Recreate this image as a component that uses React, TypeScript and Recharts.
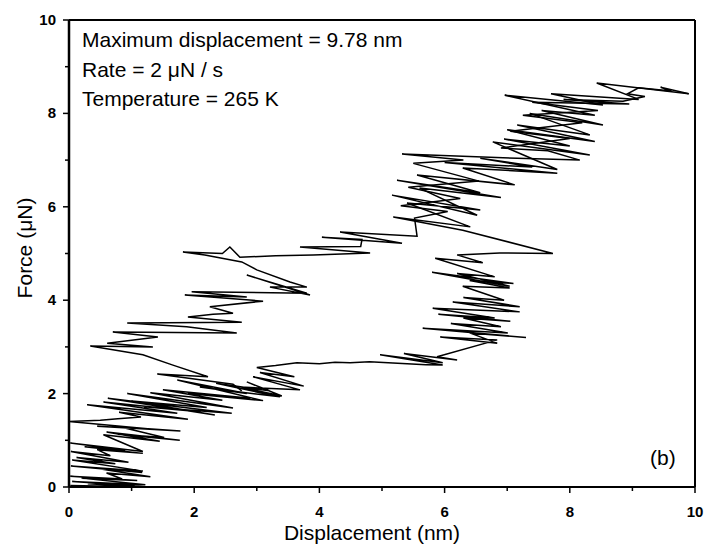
import { LineChart, Line, XAxis, YAxis } from "recharts";

type Pt = [number, number];

// loading branch (x in nm, y in uN)
const loadBottom: Pt[] = [
  [0.02, 0.03], [1.26, 0.0],
  [0.3, 0.07], [1.05, 0.03],
  [0.05, 0.12], [1.22, 0.05],
  [0.2, 0.19], [1.09, 0.14],
  [0.02, 0.23], [0.85, 0.17],
  [0.6, 0.3], [1.3, 0.22],
  [0.38, 0.41], [1.17, 0.31],
  [0.03, 0.45], [1.18, 0.34],
  [0.05, 0.58], [0.74, 0.5],
  [0.12, 0.63], [0.95, 0.53],
  [0.03, 0.76], [0.66, 0.67],
  [0.45, 0.8], [1.18, 0.72],
  [0.25, 0.86], [0.9, 0.79],
  [0.02, 0.94], [1.18, 0.76],
];

const loadLow: Pt[] = [
  [0.55, 1.12], [1.45, 0.98],
  [0.6, 1.18], [1.77, 1.0],
  [0.78, 1.13], [1.52, 1.06],
  [0.81, 1.29], [1.78, 1.2],
  [0.45, 1.3], [1.3, 1.24],
  [0.0, 1.4], [0.5, 1.43], [0.78, 1.46], [1.15, 1.5],
];

const loadRise: Pt[] = [
  [0.8, 1.6], [1.9, 1.45],
  [0.29, 1.76], [1.73, 1.58],
  [0.55, 1.82], [2.0, 1.62],
  [1.2, 1.72], [2.6, 1.58],
  [0.62, 1.9], [2.33, 1.54],
  [1.0, 1.84], [2.2, 1.7],
  [0.93, 2.0], [2.62, 1.69],
  [1.3, 2.02], [2.45, 1.86],
  [1.5, 2.08], [2.9, 1.9],
  [1.9, 2.0], [3.1, 1.85],
  [1.73, 2.29], [2.84, 2.0],
  [2.09, 2.14], [3.37, 1.93],
  [2.35, 2.22], [3.2, 2.06],
  [2.84, 2.25], [3.4, 1.95],
  [2.73, 2.14], [3.69, 2.08],
  [2.94, 2.36], [3.75, 2.16],
  [3.05, 2.45], [3.6, 2.36],
];

const loadPlateau: Pt[] = [
  [3.0, 2.56], [3.3, 2.6], [3.64, 2.66], [4.0, 2.64], [4.25, 2.67], [4.49, 2.66],
  [4.8, 2.68], [5.1, 2.66], [5.4, 2.64], [5.7, 2.62], [5.97, 2.61],
  [4.97, 2.83], [5.97, 2.66], [5.35, 2.86], [6.2, 2.72], [5.88, 2.79], [6.84, 3.15],
];

const loadSteep: Pt[] = [
  [5.93, 3.21], [6.84, 3.08],
  [6.4, 3.3], [7.3, 3.2],
  [5.65, 3.4], [7.01, 3.3],
  [6.1, 3.5], [6.9, 3.43],
  [6.3, 3.62], [7.05, 3.55],
  [5.9, 3.7], [6.8, 3.62],
  [5.81, 3.83], [7.2, 3.75],
  [6.13, 3.96], [7.2, 3.86],
  [6.3, 4.06], [6.95, 4.0],
  [6.29, 4.3], [7.04, 4.26],
  [6.4, 4.42], [7.1, 4.36],
  [5.8, 4.6], [7.04, 4.3],
  [6.2, 4.57], [6.8, 4.5],
  [5.85, 4.9], [6.61, 4.8],
  [6.2, 4.97], [6.88, 5.01], [7.73, 5.0],
];

const loadBand: Pt[] = [
  [6.29, 5.5],
  [5.18, 5.78], [6.41, 5.57],
  [5.4, 6.08], [6.57, 5.93],
  [5.16, 6.25], [6.52, 5.82],
  [5.6, 6.4], [6.9, 6.2],
  [5.24, 6.57], [6.57, 6.3],
  [5.56, 6.68], [7.12, 6.47],
  [6.29, 6.83], [7.8, 6.72],
  [6.0, 6.95], [7.4, 6.85],
  [6.57, 7.04], [7.8, 6.8],
  [6.77, 7.39], [8.32, 7.11],
  [6.95, 7.45], [8.0, 7.3],
  [7.0, 7.65], [8.4, 7.4],
  [7.16, 7.75], [8.32, 7.54],
  [7.36, 8.0], [8.53, 7.75],
  [7.55, 8.06], [8.4, 7.96],
  [6.96, 8.39], [8.53, 8.18],
  [7.7, 8.42], [9.1, 8.3],
  [8.43, 8.65], [9.9, 8.42],
];

// unloading branch
const unloadTop: Pt[] = [
  [9.9, 8.42], [9.45, 8.56], [9.62, 8.48], [9.1, 8.55], [8.92, 8.42], [9.2, 8.36], [8.85, 8.26],
  [7.9, 8.3], [8.95, 8.2], [7.4, 8.24], [8.45, 8.06],
  [7.25, 7.96], [8.2, 7.8], [7.05, 7.62], [8.0, 7.46],
  [6.9, 7.26], [7.65, 7.2],
  [8.16, 7.0], [7.16, 7.04], [5.32, 7.13],
];

const unloadBand: Pt[] = [
  [6.3, 7.0], [5.5, 6.93], [6.55, 6.55], [5.42, 6.42], [6.25, 6.18], [5.3, 6.02],
  [6.05, 5.9], [5.52, 5.76],
];

const unloadLeft: Pt[] = [
  [5.56, 5.37], [4.33, 5.46], [5.32, 5.22], [4.04, 5.35], [4.68, 5.3], [4.66, 5.15],
  [3.69, 5.14], [4.81, 5.01], [3.9, 4.97], [3.3, 4.95], [2.73, 4.92], [2.57, 5.14],
  [2.45, 5.0], [1.82, 5.03], [2.17, 4.97], [2.76, 4.82], [3.0, 4.65], [3.53, 4.39],
  [3.8, 4.28], [3.21, 4.28], [3.85, 4.11], [2.84, 4.54], [3.8, 4.15],
  [1.96, 4.18], [2.84, 4.07], [1.85, 4.11], [3.1, 3.98], [2.25, 3.86], [2.62, 3.72], [2.3, 3.7],
  [1.9, 3.64], [2.76, 3.53], [0.93, 3.51], [1.88, 3.43], [2.68, 3.3], [0.7, 3.32],
  [1.42, 3.21], [0.61, 3.08], [1.34, 3.0], [0.34, 3.02], [1.18, 2.83], [1.66, 2.61],
  [2.22, 2.36], [1.41, 2.42], [2.62, 2.2], [2.76, 2.06],
];

const ticks = [0, 1, 2, 3, 4, 5, 6, 7, 8, 9, 10];

const notes = ["Maximum displacement = 9.78 nm", "Rate = 2 \u03bcN / s", "Temperature = 265 K"];

const toRows = (pts: Pt[]) => pts.map(([x, y]) => ({ x, y }));

const loading = toRows([...loadBottom, ...loadLow, ...loadRise, ...loadPlateau, ...loadSteep, ...loadBand]);
const unloading = toRows([...unloadTop, ...unloadBand, ...unloadLeft]);

const font = "'Liberation Sans', Arial, sans-serif";
const isMajor = (v: number) => v % 2 === 0;

const BottomTick = ({ x, y, payload }: any) => (
  <g>
    <line x1={x} y1={y} x2={x} y2={y + (isMajor(payload.value) ? 6 : 4)} stroke="#000" strokeWidth={1.5} />
    {isMajor(payload.value) && (
      <text x={x} y={y + 30} textAnchor="middle" fontSize={15} fontWeight="bold" fontFamily={font} fill="#000">
        {payload.value}
      </text>
    )}
  </g>
);

const TopTick = ({ x, y, payload }: any) => (
  <line x1={x} y1={y} x2={x} y2={y - (isMajor(payload.value) ? 6 : 4)} stroke="#000" strokeWidth={1.5} />
);

const LeftTick = ({ x, y, payload }: any) => (
  <g>
    <line x1={x} y1={y} x2={x - (isMajor(payload.value) ? 6 : 4)} y2={y} stroke="#000" strokeWidth={1.5} />
    {isMajor(payload.value) && (
      <text x={x - 13} y={y + 5} textAnchor="end" fontSize={15} fontWeight="bold" fontFamily={font} fill="#000">
        {payload.value}
      </text>
    )}
  </g>
);

const RightTick = ({ x, y, payload }: any) => (
  <line x1={x} y1={y} x2={x + (isMajor(payload.value) ? 6 : 4)} y2={y} stroke="#000" strokeWidth={1.5} />
);

const axisLine = { stroke: "#000", strokeWidth: 2 };

const App = () => {
  return (
    <div style={{ position: "absolute", left: 0, top: 0, width: 709, height: 549, background: "#fff" }}>
      <LineChart width={709} height={549} margin={{ top: 10, right: 4, bottom: 22, left: 9 }}>
        <XAxis
          xAxisId="b"
          type="number"
          dataKey="x"
          domain={[0, 10]}
          ticks={ticks}
          interval={0}
          height={40}
          axisLine={axisLine}
          tickLine={false}
          tickSize={0}
          tickMargin={0}
          tick={(p: any) => <BottomTick {...p} />}
        />
        <XAxis
          xAxisId="t"
          orientation="top"
          type="number"
          dataKey="x"
          domain={[0, 10]}
          ticks={ticks}
          interval={0}
          height={10}
          axisLine={axisLine}
          tickLine={false}
          tickSize={0}
          tickMargin={0}
          tick={(p: any) => <TopTick {...p} />}
        />
        <YAxis
          yAxisId="l"
          type="number"
          dataKey="y"
          domain={[0, 10]}
          ticks={ticks}
          interval={0}
          width={60}
          axisLine={{ stroke: "#000", strokeWidth: 2.5 }}
          tickLine={false}
          tickSize={0}
          tickMargin={0}
          tick={(p: any) => <LeftTick {...p} />}
        />
        <YAxis
          yAxisId="r"
          orientation="right"
          type="number"
          dataKey="y"
          domain={[0, 10]}
          ticks={ticks}
          interval={0}
          width={10}
          axisLine={axisLine}
          tickLine={false}
          tickSize={0}
          tickMargin={0}
          tick={(p: any) => <RightTick {...p} />}
        />
        <Line
          xAxisId="b"
          yAxisId="l"
          data={loading}
          dataKey="y"
          type="linear"
          stroke="#000"
          strokeWidth={1.5}
          dot={false}
          isAnimationActive={false}
        />
        <Line
          xAxisId="b"
          yAxisId="l"
          data={unloading}
          dataKey="y"
          type="linear"
          stroke="#000"
          strokeWidth={1.5}
          dot={false}
          isAnimationActive={false}
        />
      </LineChart>
      <svg
        width={709}
        height={549}
        style={{ position: "absolute", left: 0, top: 0, pointerEvents: "none" }}
        fontFamily={font}
      >
        {notes.map((t, i) => (
          <text key={t} x={82} y={47 + i * 29.5} fontSize={21} fill="#000">
            {t}
          </text>
        ))}
        <text x={650} y={465} fontSize={21} fill="#000">(b)</text>
        <text x={372} y={540} textAnchor="middle" fontSize={21} fill="#000">Displacement (nm)</text>
        <text x={32} y={248} textAnchor="middle" fontSize={21} fill="#000" transform="rotate(-90, 32, 248)">
          Force (μN)
        </text>
      </svg>
    </div>
  );
};

export default App;
